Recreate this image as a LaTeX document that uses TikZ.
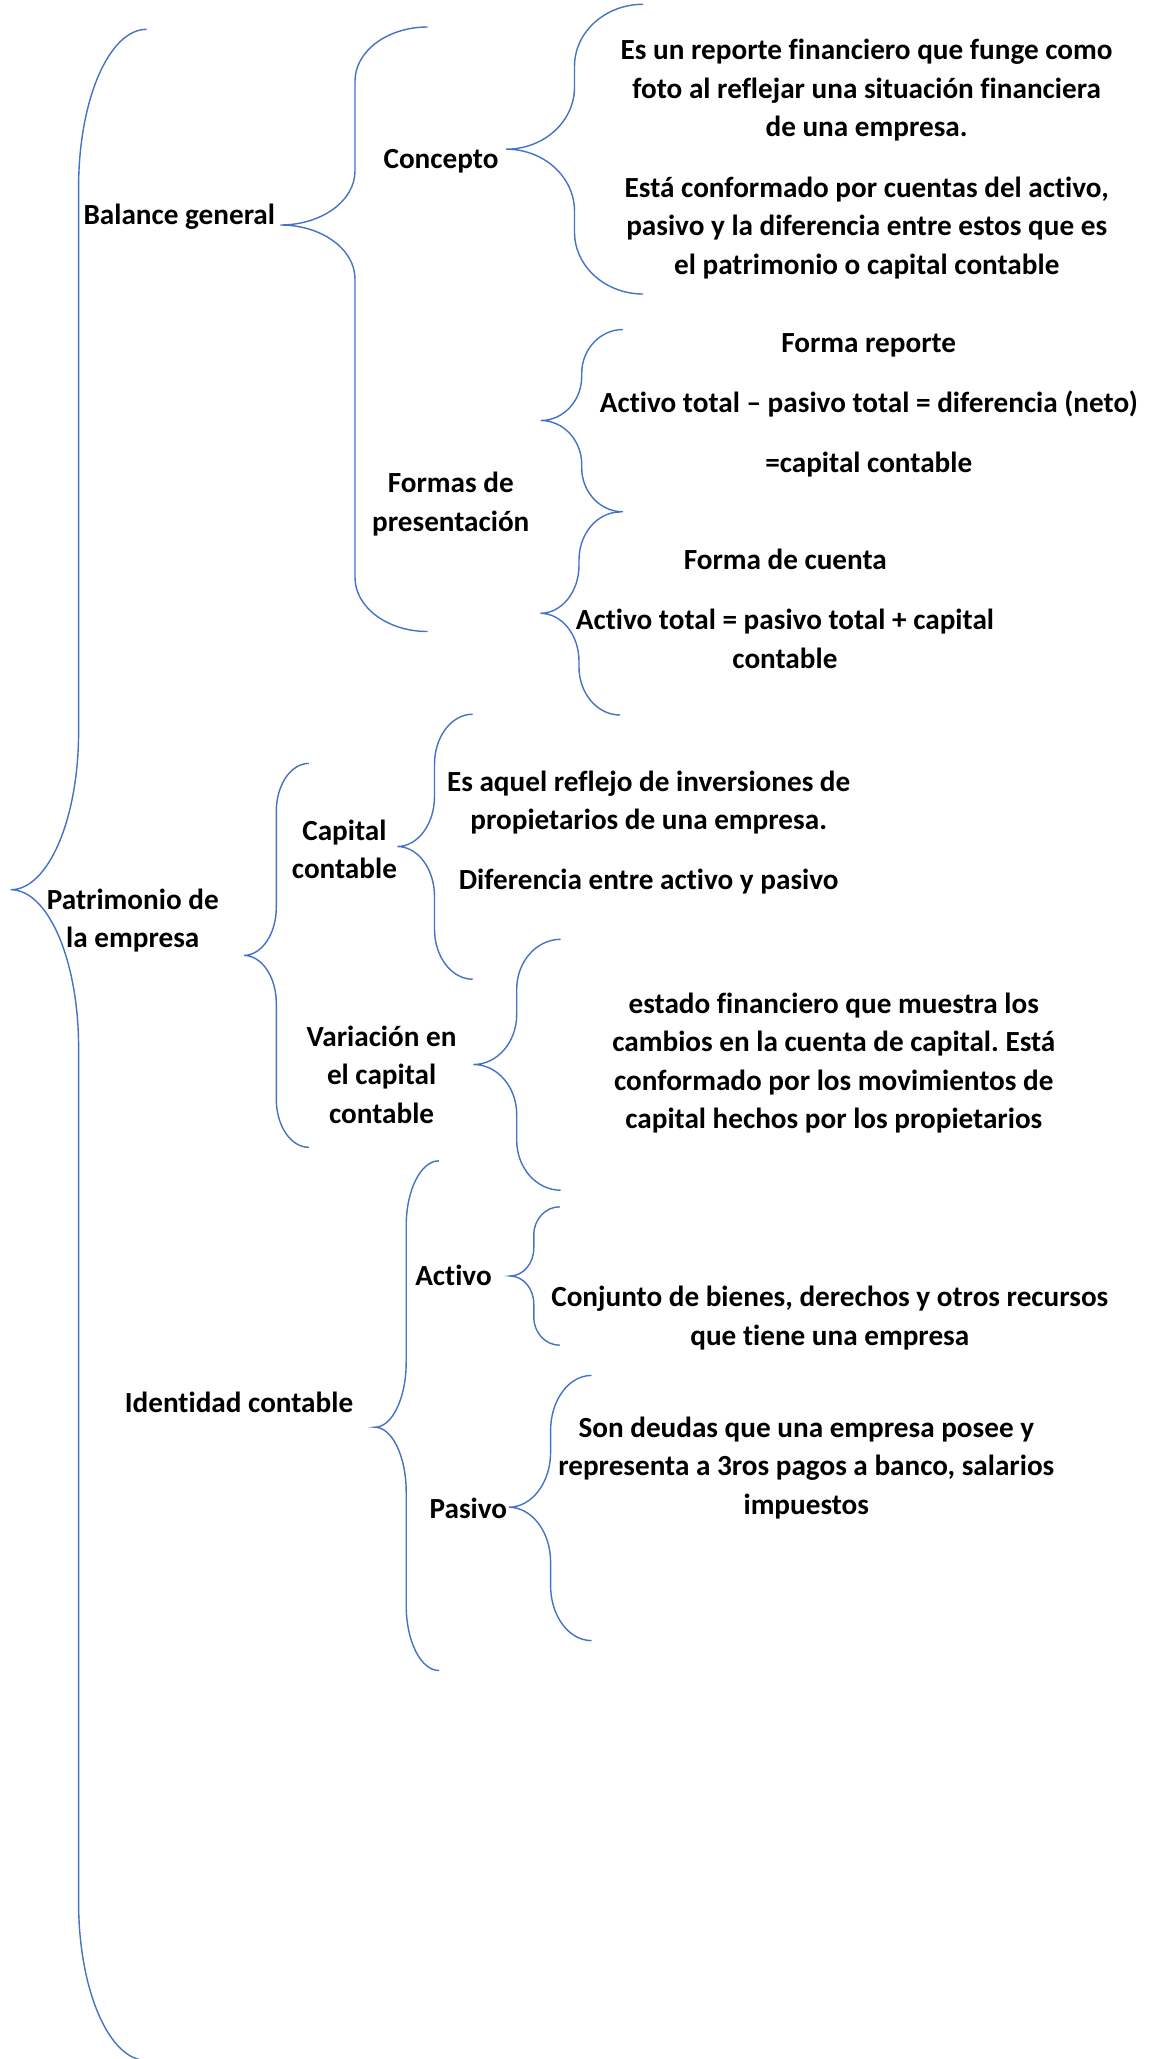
\documentclass[tikz,border=0pt]{standalone}
\usepackage{fontspec}
\setmainfont{Carlito}[Ligatures=NoCommon]
\frenchspacing
\definecolor{bracec}{HTML}{4472C4}
\tikzset{
  brc/.style={draw=bracec, line width=1.4pt},
  txt/.style={font=\fontsize{29.2}{38.5}\selectfont\bfseries\frenchspacing, align=center, inner sep=0pt, anchor=base, text=black}
}
% xe xv xt ytop ytip ybot h
\newcommand\wbrace[7]{%
  \draw[brc] (#1,#4) .. controls ({#1-0.5523*(#1-#2)},#4) and (#2,{#4+0.4477*#7}) .. (#2,{#4+#7})
    -- (#2,{#5-#7}) .. controls (#2,{#5-0.4477*#7}) and ({#3+0.5523*(#2-#3)},#5) .. (#3,#5)
    .. controls ({#3+0.5523*(#2-#3)},#5) and (#2,{#5+0.4477*#7}) .. (#2,{#5+#7})
    -- (#2,{#6-#7}) .. controls (#2,{#6-0.4477*#7}) and ({#1-0.5523*(#1-#2)},#6) .. (#1,#6);}
\begin{document}
\begin{tikzpicture}[x=1pt,y=-1pt]
\useasboundingbox (0,0) rectangle (1157,2059);
\clip (0,0) rectangle (1157,2059);
% braces
\wbrace{146.7}{78.6}{10.7}{29.3}{889.7}{2060.5}{158}
\wbrace{427.5}{355}{280.5}{27}{225}{631.5}{54}
\wbrace{643}{574.5}{506.2}{4.3}{149.2}{294}{62}
\wbrace{623}{581.7}{540.7}{329.5}{420.5}{511.8}{44}
\wbrace{620}{579}{540.4}{512}{613.3}{715}{48}
\wbrace{308.8}{276.3}{243.8}{763.4}{955.4}{1147.3}{48}
\wbrace{472.7}{434.5}{397.3}{714.2}{846.5}{979.2}{50}
\wbrace{560.7}{516.7}{473.5}{939.3}{1064.5}{1190.2}{50}
\wbrace{439}{406.2}{374.8}{1160.8}{1427.2}{1670.5}{65}
\wbrace{559.7}{533.8}{510}{1206.8}{1276}{1345.2}{28}
\wbrace{591.5}{550.6}{508.8}{1375.4}{1507.2}{1640.6}{55}
% texts (anchor = baseline of the last line)
\node[txt] (bal) at (179.3,224.5) {Balance general};
\node[txt] (con) at (441,168.5) {Concepto};
\node[txt] (for) at (450.8,531.3) {Formas de\\presentación};
\node[txt] (c1) at (866.6,136.8) {Es un reporte financiero que funge como\\foto al reflejar una situación financiera\\de una empresa.};
\node[txt] (c2) at (866.7,274.1) {Está conformado por cuentas del activo,\\pasivo y la diferencia entre estos que es\\el patrimonio o capital contable};
\node[txt] (fr) at (868.7,352.6) {Forma reporte};
\node[txt] (fr2) at (868.8,412.3) {Activo total – pasivo total = diferencia (neto)};
\node[txt] (fr3) at (868.7,472) {=capital contable};
\node[txt] (fc) at (785.3,569.3) {Forma de cuenta};
\node[txt] (fc2) at (784.9,668) {Activo total = pasivo total + capital\\contable};
\node[txt] (pat) at (132.8,947.8) {Patrimonio de\\la empresa};
\node[txt] (cap) at (344.4,878.6) {Capital\\contable};
\node[txt] (var) at (381.6,1123.2) {Variación en\\el capital\\contable};
\node[txt] (cap1) at (648.7,829.5) {Es aquel reflejo de inversiones de\\propietarios de una empresa.};
\node[txt] (cap2) at (648.7,889.7) {Diferencia entre activo y pasivo};
\node[txt] (var1) at (833.8,1128.6) {estado financiero que muestra los\\cambios en la cuenta de capital. Está\\conformado por los movimientos de\\capital hechos por los propietarios};
\node[txt] (ide) at (239,1412.6) {Identidad contable};
\node[txt] (act) at (453.5,1285.5) {Activo};
\node[txt] (act1) at (829.8,1345) {Conjunto de bienes, derechos y otros recursos\\que tiene una empresa};
\node[txt] (pas) at (468.4,1518.5) {Pasivo};
\node[txt] (pas1) at (806.3,1514) {Son deudas que una empresa posee y\\representa a 3ros pagos a banco, salarios\\impuestos};
\end{tikzpicture}
\end{document}
